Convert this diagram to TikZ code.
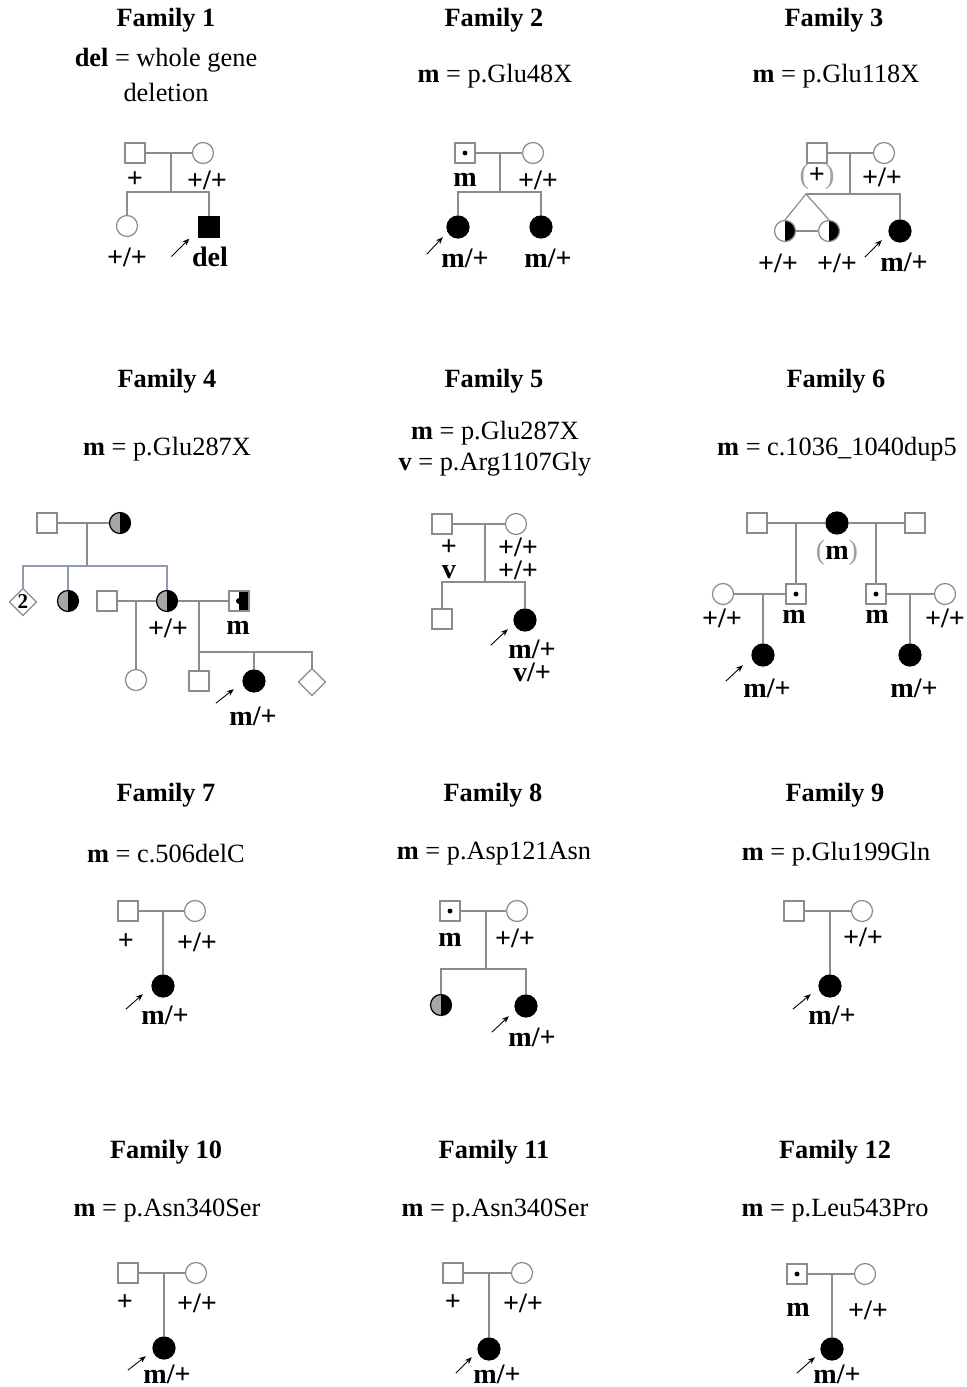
\documentclass[tikz,border=0pt]{standalone}
\usepackage{fontspec}
\setmainfont{Liberation Serif}
\usetikzlibrary{arrows.meta, shapes.geometric}
\definecolor{pedgray}{HTML}{8C8C8C}
\definecolor{carriergray}{HTML}{A6A6A6}
\definecolor{sibblue}{HTML}{8E9CB3}
\definecolor{bracketgray}{HTML}{A0A0A0}
\newcommand{\gb}[1]{\textcolor{bracketgray}{\mdseries(}#1\textcolor{bracketgray}{\mdseries)}}

\begin{document}
\begin{tikzpicture}[x=0.02cm, y=-0.02cm,
    male/.style={rectangle, draw=pedgray, line width=0.7pt, fill=white,
                 minimum size=0.4cm, inner sep=0pt},
    female/.style={circle, draw=pedgray, line width=0.7pt, fill=white,
                   minimum size=0.42cm, inner sep=0pt},
    sexunk/.style={diamond, draw=pedgray, line width=0.7pt, fill=white,
                   minimum size=0.55cm, inner sep=0pt,
                   font=\fontsize{12}{12}\selectfont\bfseries},
    aff/.style={fill=black, draw=black, minimum size=0.44cm},
    carrier/.style={path picture={\fill[black] (path picture bounding box.center) circle (1.4pt);}},
    halfblack/.style={path picture={\fill[black] (path picture bounding box.north)
                      rectangle (path picture bounding box.south east);}},
    halfgray/.style={draw=black, path picture={
                      \fill[carriergray] (path picture bounding box.north west)
                      rectangle (path picture bounding box.south);
                      \fill[black] (path picture bounding box.north)
                      rectangle (path picture bounding box.south east);}},
    halfcarrier/.style={path picture={
                      \fill[black] (path picture bounding box.north)
                      rectangle (path picture bounding box.south east);
                      \fill[black] (path picture bounding box.center) circle (1.7pt);}},
    famtitle/.style={font=\fontsize{15}{18}\selectfont\bfseries, inner sep=0pt},
    mut/.style={font=\fontsize{15}{18}\selectfont, inner sep=0pt},
    gt/.style={font=\fontsize{16}{16}\selectfont\bfseries, inner sep=0pt},
    gt2/.style={gt, align=center, font=\fontsize{16}{13}\selectfont\bfseries},
    rel/.style={draw=pedgray, line width=0.7pt},
    sib/.style={draw=sibblue, line width=0.7pt},
    prob/.style={-{Stealth[length=4pt, width=3.2pt]}, line width=0.5pt, black}
  ]
    \path[use as bounding box, fill=white] (0,0) rectangle (967,1387);

    % Family 1
    \node[famtitle] (t1) at (166,20) {Family 1};
    \node[mut] (v1a) at (166,60) {\textbf{del} = whole gene};
    \node[mut] (v1b) at (166,92) {deletion};
    \node[male] (f1f) at (135,153) {};
    \node[female] (f1m) at (203,153) {};
    \node[female] (f1d) at (127,226) {};
    \node[male, aff, minimum size=0.4cm] (f1p) at (209,227) {};
    \coordinate (f1c) at (171,153);
    \coordinate (f1k) at (171,192);
    \draw[rel] (f1f) -- (f1m);
    \draw[rel] (f1c) -- (f1k);
    \draw[rel] (f1d) |- (f1k) -| (f1p);
    \node[gt] (g1a) at (135,180) {+};
    \node[gt] (g1b) at (207,180) {+/+};
    \node[gt] (g1c) at (127,257) {+/+};
    \node[gt] (g1d) at (210,257) {del};
    \draw[prob] ([shift={(-27,19)}]f1p.south west) -- ([shift={(-9,1)}]f1p.south west);

    % Family 2
    \node[famtitle] (t2) at (494,20) {Family 2};
    \node[mut] (v2) at (495,76) {\textbf{m} = p.Glu48X};
    \node[male, carrier] (f2f) at (465,153) {};
    \node[female] (f2m) at (533,153) {};
    \node[female, aff] (f2p) at (458,227) {};
    \node[female, aff] (f2d) at (541,227) {};
    \coordinate (f2c) at (500,153);
    \coordinate (f2k) at (500,192);
    \draw[rel] (f2f) -- (f2m);
    \draw[rel] (f2c) -- (f2k);
    \draw[rel] (f2p) |- (f2k) -| (f2d);
    \node[gt] (g2a) at (465,180) {m};
    \node[gt] (g2b) at (538,180) {+/+};
    \node[gt] (g2c) at (465,258) {m/+};
    \node[gt] (g2d) at (548,258) {m/+};
    \draw[prob] ([shift={(-23,19)}]f2p.south west) -- ([shift={(-7,2)}]f2p.south west);

    % Family 3
    \node[famtitle] (t3) at (834,20) {Family 3};
    \node[mut] (v3) at (836,76) {\textbf{m} = p.Glu118X};
    \node[male] (f3f) at (817,153) {};
    \node[female] (f3m) at (884,153) {};
    \node[female, halfblack] (f3t1) at (785,231) {};
    \node[female, halfblack] (f3t2) at (829,231) {};
    \node[female, aff] (f3p) at (900,231) {};
    \coordinate (f3c) at (850,153);
    \coordinate (f3k) at (850,194);
    \coordinate (f3tw) at (806,194);
    \draw[rel] (f3f) -- (f3m);
    \draw[rel] (f3c) -- (f3k);
    \draw[rel] (f3tw) -| (f3p);
    \draw[rel] (f3t1.north) -- (f3tw) -- (f3t2.north);
    \draw[rel] (f3t1) -- (f3t2);
    \node[gt] (g3a) at (817,177) {\gb{+}};
    \node[gt] (g3b) at (882,177) {+/+};
    \node[gt] (g3c) at (778,263) {+/+};
    \node[gt] (g3d) at (837,263) {+/+};
    \node[gt] (g3e) at (904,262) {m/+};
    \draw[prob] ([shift={(-27,18)}]f3p.south west) -- ([shift={(-10,1)}]f3p.south west);

    % Family 4
    \node[famtitle] (t4) at (167,381) {Family 4};
    \node[mut] (v4) at (167,449) {\textbf{m} = p.Glu287X};
    \node[male] (f4f) at (47,523) {};
    \node[female, halfgray] (f4m) at (120,523) {};
    \node[sexunk] (f4u) at (23,602) {2};
    \node[female, halfgray] (f4d1) at (68,601) {};
    \node[female, halfgray] (f4d2) at (167,601) {};
    \node[male] (f4h1) at (107,601) {};
    \node[male, halfcarrier] (f4h2) at (239,601) {};
    \node[female] (f4g) at (136,680) {};
    \node[male] (f4s) at (199,681) {};
    \node[female, aff] (f4p) at (254,681) {};
    \node[sexunk] (f4u2) at (312,682) {};
    \coordinate (f4c) at (87,523);
    \coordinate (f4k) at (87,566);
    \coordinate (f4c2) at (136,601);
    \coordinate (f4c3) at (199,601);
    \coordinate (f4k3) at (199,652);
    \draw[rel] (f4f) -- (f4m);
    \draw[rel] (f4c) -- (f4k);
    \draw[sib] (f4u) |- (f4k) -| (f4d2);
    \draw[sib] (f4d1) -- (f4d1 |- f4k);
    \draw[rel] (f4h1) -- (f4d2);
    \draw[rel] (f4d2) -- (f4h2);
    \draw[rel] (f4c2) -- (f4g);
    \draw[rel] (f4c3) -- (f4s);
    \draw[rel] (f4k3) -| (f4u2);
    \draw[rel] (f4p) -- (f4p |- f4k3);
    \node[gt] (g4a) at (168,628) {+/+};
    \node[gt] (g4b) at (238,628) {m};
    \node[gt] (g4c) at (253,716) {m/+};
    \draw[prob] ([shift={(-30,14)}]f4p.south west) -- ([shift={(-12,0)}]f4p.south west);

    % Family 5
    \node[famtitle] (t5) at (494,381) {Family 5};
    \node[mut] (v5a) at (495,433) {\textbf{m} = p.Glu287X};
    \node[mut] (v5b) at (495,464) {\textbf{v} = p.Arg1107Gly};
    \node[male] (f5f) at (442,524) {};
    \node[female] (f5m) at (516,524) {};
    \node[male] (f5s) at (442,619) {};
    \node[female, aff] (f5p) at (525,620) {};
    \coordinate (f5c) at (485,524);
    \coordinate (f5k) at (485,582);
    \draw[rel] (f5f) -- (f5m);
    \draw[rel] (f5c) -- (f5k);
    \draw[rel] (f5s) |- (f5k) -| (f5p);
    \node[gt2] (g5a) at (449,559) {+\\v};
    \node[gt2] (g5b) at (518,559) {+/+\\+/+};
    \node[gt2] (g5c) at (532,661) {m/+\\v/+};
    \draw[prob] ([shift={(-26,17)}]f5p.south west) -- ([shift={(-9,1)}]f5p.south west);

    % Family 6
    \node[famtitle] (t6) at (836,381) {Family 6};
    \node[mut] (v6) at (837,449) {\textbf{m} = c.1036\_1040dup5};
    \node[male] (f6h1) at (757,523) {};
    \node[female, aff] (f6w) at (837,523) {};
    \node[male] (f6h2) at (915,523) {};
    \node[male, carrier] (f6s1) at (796,594) {};
    \node[male, carrier] (f6s2) at (876,594) {};
    \node[female] (f6x1) at (723,594) {};
    \node[female] (f6x2) at (945,594) {};
    \node[female, aff] (f6p) at (763,655) {};
    \node[female, aff] (f6q) at (910,655) {};
    \coordinate (f6c1) at (796,523);
    \coordinate (f6c2) at (876,523);
    \coordinate (f6c3) at (763,594);
    \coordinate (f6c4) at (910,594);
    \draw[rel] (f6h1) -- (f6w);
    \draw[rel] (f6w) -- (f6h2);
    \draw[rel] (f6c1) -- (f6s1);
    \draw[rel] (f6c2) -- (f6s2);
    \draw[rel] (f6x1) -- (f6s1);
    \draw[rel] (f6s2) -- (f6x2);
    \draw[rel] (f6c3) -- (f6p);
    \draw[rel] (f6c4) -- (f6q);
    \node[gt] (g6a) at (837,553) {\gb{m}};
    \node[gt] (g6b) at (722,618) {+/+};
    \node[gt] (g6c) at (794,617) {m};
    \node[gt] (g6d) at (877,617) {m};
    \node[gt] (g6e) at (945,618) {+/+};
    \node[gt] (g6f) at (767,688) {m/+};
    \node[gt] (g6g) at (914,688) {m/+};
    \draw[prob] ([shift={(-29,18)}]f6p.south west) -- ([shift={(-12,2)}]f6p.south west);

    % Family 7
    \node[famtitle] (t7) at (166,795) {Family 7};
    \node[mut] (v7) at (166,854) {\textbf{m} = c.506delC};
    \node[male] (f7f) at (128,911) {};
    \node[female] (f7m) at (195,911) {};
    \node[female, aff] (f7p) at (163,986) {};
    \coordinate (f7c) at (163,911);
    \draw[rel] (f7f) -- (f7m);
    \draw[rel] (f7c) -- (f7p);
    \node[gt] (g7a) at (126,942) {+};
    \node[gt] (g7b) at (197,942) {+/+};
    \node[gt] (g7c) at (165,1015) {m/+};
    \draw[prob] ([shift={(-29,15)}]f7p.south west) -- ([shift={(-12,0)}]f7p.south west);

    % Family 8
    \node[famtitle] (t8) at (493,795) {Family 8};
    \node[mut] (v8) at (494,854) {\textbf{m} = p.Asp121Asn};
    \node[male, carrier] (f8f) at (450,911) {};
    \node[female] (f8m) at (517,911) {};
    \node[female, halfgray] (f8d) at (441,1005) {};
    \node[female, aff] (f8p) at (526,1006) {};
    \coordinate (f8c) at (486,911);
    \coordinate (f8k) at (486,969);
    \draw[rel] (f8f) -- (f8m);
    \draw[rel] (f8c) -- (f8k);
    \draw[rel] (f8d) |- (f8k) -| (f8p);
    \node[gt] (g8a) at (450,940) {m};
    \node[gt] (g8b) at (515,938) {+/+};
    \node[gt] (g8c) at (532,1037) {m/+};
    \draw[prob] ([shift={(-26,18)}]f8p.south west) -- ([shift={(-9,2)}]f8p.south west);

    % Family 9
    \node[famtitle] (t9) at (835,795) {Family 9};
    \node[mut] (v9) at (836,854) {\textbf{m} = p.Glu199Gln};
    \node[male] (f9f) at (794,911) {};
    \node[female] (f9m) at (862,911) {};
    \node[female, aff] (f9p) at (830,986) {};
    \coordinate (f9c) at (830,911);
    \draw[rel] (f9f) -- (f9m);
    \draw[rel] (f9c) -- (f9p);
    \node[gt] (g9a) at (863,937) {+/+};
    \node[gt] (g9b) at (832,1015) {m/+};
    \draw[prob] ([shift={(-29,15)}]f9p.south west) -- ([shift={(-11,0)}]f9p.south west);

    % Family 10
    \node[famtitle] (t10) at (166,1152) {Family 10};
    \node[mut] (v10) at (167,1211) {\textbf{m} = p.Asn340Ser};
    \node[male] (f10f) at (128,1273) {};
    \node[female] (f10m) at (196,1273) {};
    \node[female, aff] (f10p) at (164,1348) {};
    \coordinate (f10c) at (164,1273);
    \draw[rel] (f10f) -- (f10m);
    \draw[rel] (f10c) -- (f10p);
    \node[gt] (g10a) at (125,1303) {+};
    \node[gt] (g10b) at (197,1303) {+/+};
    \node[gt] (g10c) at (167,1374) {m/+};
    \draw[prob] ([shift={(-28,14)}]f10p.south west) -- ([shift={(-10,0)}]f10p.south west);

    % Family 11
    \node[famtitle] (t11) at (494,1152) {Family 11};
    \node[mut] (v11) at (495,1211) {\textbf{m} = p.Asn340Ser};
    \node[male] (f11f) at (453,1273) {};
    \node[female] (f11m) at (522,1273) {};
    \node[female, aff] (f11p) at (489,1349) {};
    \coordinate (f11c) at (489,1273);
    \draw[rel] (f11f) -- (f11m);
    \draw[rel] (f11c) -- (f11p);
    \node[gt] (g11a) at (453,1303) {+};
    \node[gt] (g11b) at (523,1303) {+/+};
    \node[gt] (g11c) at (497,1374) {m/+};
    \draw[prob] ([shift={(-25,16)}]f11p.south west) -- ([shift={(-9,0)}]f11p.south west);

    % Family 12
    \node[famtitle] (t12) at (835,1152) {Family 12};
    \node[mut] (v12) at (835,1211) {\textbf{m} = p.Leu543Pro};
    \node[male, carrier] (f12f) at (797,1274) {};
    \node[female] (f12m) at (865,1274) {};
    \node[female, aff] (f12p) at (832,1349) {};
    \coordinate (f12c) at (832,1274);
    \draw[rel] (f12f) -- (f12m);
    \draw[rel] (f12c) -- (f12p);
    \node[gt] (g12a) at (798,1310) {m};
    \node[gt] (g12b) at (868,1310) {+/+};
    \node[gt] (g12c) at (837,1374) {m/+};
    \draw[prob] ([shift={(-27,16)}]f12p.south west) -- ([shift={(-9,0)}]f12p.south west);
\end{tikzpicture}
\end{document}
